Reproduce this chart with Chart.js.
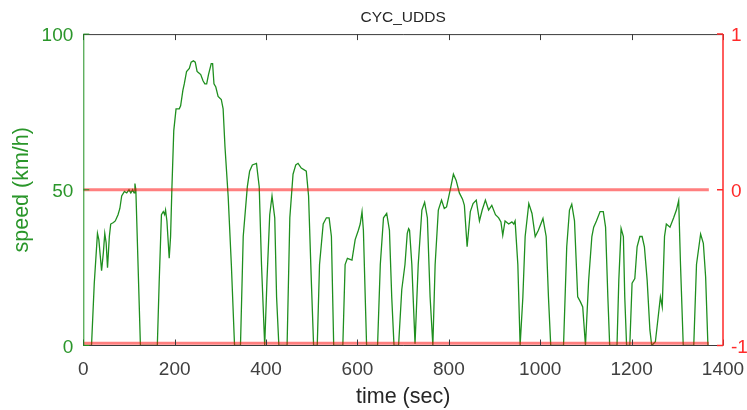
<!DOCTYPE html>
<html><head><meta charset="utf-8">
<script src="https://cdn.jsdelivr.net/npm/chart.js@4/dist/chart.umd.min.js"></script>
<style>html,body{margin:0;padding:0;background:#fff;overflow:hidden}#wrap{width:747px;height:410px}</style>
</head><body><div id="wrap"><canvas id="c" width="747" height="410"></canvas></div>
<script>
const chartTitle = 'CYC_UDDS';
const timeSec = [0,18,24,31,34,40,44,47,50,53,57,60,66,70,76,80,84,90,95,100,104,108,111,113,115,119,125,162,166,171,175,178,180,183,188,191,194,198,203,210,213,218,221,226,232,236,241,245,249,253,257,262,266,270,274,280,283,286,290,295,302,306,310,317,324,331,344,350,359,364,370,379,385,390,397,402,408,413,419,423,428,446,452,459,465,470,477,488,493,499,504,512,517,525,532,538,543,548,568,573,578,588,595,602,606,610,613,617,620,644,650,657,664,670,675,680,690,697,704,709,712,714,719,726,733,741,747,753,759,765,770,777,784,790,795,803,810,816,823,830,834,840,847,853,860,867,873,880,887,894,902,909,914,918,923,931,938,942,945,951,956,962,967,975,982,989,996,1006,1013,1018,1023,1051,1058,1064,1069,1075,1082,1088,1093,1099,1106,1113,1117,1123,1131,1138,1143,1148,1152,1168,1172,1177,1182,1185,1189,1196,1201,1207,1212,1218,1223,1228,1234,1240,1244,1252,1258,1263,1267,1272,1276,1284,1292,1298,1303,1307,1313,1336,1342,1351,1357,1362,1367,1369];
const speedKmh = [0,0,20,36,34,24,30,36,33,25,35,39,39.5,40,42,44,48,49.5,49,50,49,50,49,52,50,30,0,0,20,42,43,42,43.5,40,28,35,51,69,76,76,77,82,84,88,89,91,91.4,91,88,87.5,87,85,84,84,87,90.5,90.5,84,83,80,79,76,64,48,26,0,0,35,51,56,58,58.5,51,26,0,21,42,48,41,15.6,0,0,41,55,58,58.5,57,56,48,21,0,0,26,39,41,41,35,0,0,26,28,27.4,34,37,39,43,37,15.6,0,0,26,41,42.4,37,15.6,0,0,18,26,36,37.5,37,26,0.6,26,43.5,46,41,15.6,0,26,43.5,46.7,44,44.5,50,55,53,49,47,45,31.7,43,45.6,46.7,40,43.5,46.7,43.5,45,42,41,39.7,35.4,40,39,39.7,39,40,26,0,15.6,35,45.6,42.4,35,37,40.8,35,15.6,0,0,31.7,43.5,45.4,40,15.6,14,12.4,0,21,35,38,40,43,43,38,15.6,0,0,21,37.6,35,15.6,0,0,20,21.5,31.7,35,35,31.7,21,5,0,1.2,9,15.6,12.4,35,39,38,41,43.5,46.5,26,0,0,26,35.8,32.8,22,0,0];
const refLineTime = [0, 1369];
const refZero = [0, 0];
const refFloor = [-0.985, -0.985];
const xTickValues = [0,200,400,600,800,1000,1200,1400];
const leftTickValues = [0,50,100];
const rightTickValues = [-1,0,1];
const xLabel = 'time (sec)';
const yLabel = 'speed (km/h)';

const GREEN = '#1f8f1f';
const GREEN_TXT = '#2a962a';
const RED = '#ff2a2a';
const GRAY = '#3a3a3a';
const FONT = "'Liberation Sans', Arial, Helvetica, sans-serif";
Chart.defaults.font.family = FONT;

const framePlugin = {
  id: 'frame',
  afterDatasetsDraw(chart) {
    const {ctx, chartArea: a, scales} = chart;
    const x = scales.x, yl = scales.y, yr = scales.y1;
    ctx.save();
    ctx.lineWidth = 1;
    ctx.strokeStyle = GRAY;
    ctx.beginPath();
    ctx.moveTo(a.left, a.top + 0.5); ctx.lineTo(a.right, a.top + 0.5);
    ctx.moveTo(a.left, a.bottom); ctx.lineTo(a.right, a.bottom);
    xTickValues.forEach(v => {
      const px = Math.round(x.getPixelForValue(v)) + 0.5;
      ctx.moveTo(px, a.bottom); ctx.lineTo(px, a.bottom - 6);
      ctx.moveTo(px, a.top); ctx.lineTo(px, a.top + 6);
    });
    ctx.stroke();
    ctx.strokeStyle = GREEN;
    ctx.beginPath();
    ctx.moveTo(a.left + 0.5, a.top); ctx.lineTo(a.left + 0.5, a.bottom);
    leftTickValues.forEach(v => {
      const py = yl.getPixelForValue(v);
      ctx.moveTo(a.left, py); ctx.lineTo(a.left + 6, py);
    });
    ctx.stroke();
    ctx.strokeStyle = RED;
    ctx.lineWidth = 1.5;
    ctx.beginPath();
    ctx.moveTo(a.right, a.top); ctx.lineTo(a.right, a.bottom);
    rightTickValues.forEach(v => {
      const py = yr.getPixelForValue(v);
      ctx.moveTo(a.right, py); ctx.lineTo(a.right - 6, py);
    });
    ctx.stroke();
    ctx.restore();
  }
};

new Chart(document.getElementById('c'), {
  type: 'line',
  data: {
    datasets: [
      { data: refLineTime.map((t, i) => ({x: t, y: refZero[i]})), yAxisID: 'y1', borderColor: 'rgba(255,0,0,0.5)', borderWidth: 3, pointRadius: 0, order: 0 },
      { data: refLineTime.map((t, i) => ({x: t, y: refFloor[i]})), yAxisID: 'y1', borderColor: 'rgba(255,0,0,0.5)', borderWidth: 3, pointRadius: 0, order: 0 },
      { data: timeSec.map((t, i) => ({x: t, y: speedKmh[i]})), yAxisID: 'y', borderColor: GREEN, borderWidth: 1.3, pointRadius: 0, tension: 0, order: 1 }
    ]
  },
  options: {
    responsive: false,
    animation: false,
    devicePixelRatio: 1,
    layout: { padding: 0 },
    plugins: {
      legend: { display: false },
      tooltip: { enabled: false },
      title: { display: true, text: chartTitle, fullSize: false, color: '#262626', font: { size: 15.5, weight: 'normal' }, padding: { top: 8, bottom: 7.5 } }
    },
    scales: {
      x: {
        type: 'linear', min: 0, max: 1400,
        afterBuildTicks: s => { s.ticks = xTickValues.map(v => ({value: v})); },
        ticks: { color: '#404040', font: { size: 19 }, padding: 13, maxRotation: 0, autoSkip: false, callback: v => String(v) },
        grid: { display: false, drawTicks: false }, border: { display: false },
        title: { display: true, text: xLabel, color: '#262626', font: { size: 21.5 }, padding: { top: 0, bottom: 0.5 } },
        afterFit: s => { s.height = 64.5; s.paddingLeft = 0; s.paddingRight = 0; }
      },
      y: {
        position: 'left', min: 0, max: 100,
        afterBuildTicks: s => { s.ticks = leftTickValues.map(v => ({value: v})); },
        ticks: { color: GREEN_TXT, font: { size: 19 }, padding: 10, labelOffset: 2 },
        grid: { display: false, drawTicks: false }, border: { display: false },
        title: { display: true, text: yLabel, color: GREEN_TXT, font: { size: 21.5 }, padding: { top: 9, bottom: 0 } },
        afterFit: s => { s.width = 83.3; s.paddingTop = 0; s.paddingBottom = 0; }
      },
      y1: {
        position: 'right', min: -1, max: 1,
        afterBuildTicks: s => { s.ticks = rightTickValues.map(v => ({value: v})); },
        ticks: { color: RED, font: { size: 19 }, padding: 8, labelOffset: 2 },
        grid: { display: false, drawTicks: false }, border: { display: false },
        afterFit: s => { s.width = 24; s.paddingTop = 0; s.paddingBottom = 0; }
      }
    }
  },
  plugins: [framePlugin]
});
</script>
</body></html>
